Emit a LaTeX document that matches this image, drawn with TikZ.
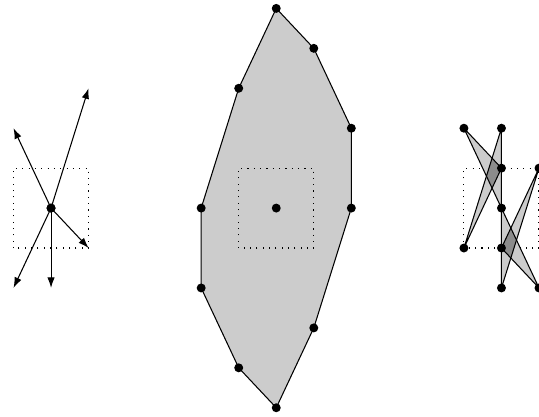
\documentclass[tikz,border=0pt]{standalone}
\usetikzlibrary{arrows.meta}
\tikzset{
  dot/.style={circle,fill=black,inner sep=0pt,minimum size=3.4pt},
  window/.style={dotted},
  gen/.style={-{Latex[length=4pt,width=2.8pt]}},
  cell/.style={fill=black!20},
  overlap/.style={fill=black!45},
}
\begin{document}
\begin{tikzpicture}[x=0.5cm,y=0.532cm]
  \useasboundingbox (-7.36,-5.21) rectangle (7,5.21);
  % left: generators
  \begin{scope}[shift={(-6,0)}]
    \draw[window] (-1,-1) rectangle (1,1);
    \coordinate (ga) at (1,3);
    \coordinate (gb) at (-1,2);
    \coordinate (gc) at (-1,-2);
    \coordinate (gd) at (0,-2);
    \coordinate (ge) at (1,-1);
    \node[dot] (org) at (0,0) {};
    \foreach \g in {ga,gb,gc,gd,ge}
      \draw[gen] (org.center) -- (\g);
    \node[dot] at (org) {};
  \end{scope}
  % middle: zonotope
  \begin{scope}
    \path (0,5) coordinate (z1) (1,4) coordinate (z2) (2,2) coordinate (z3)
      (2,0) coordinate (z4) (1,-3) coordinate (z5) (0,-5) coordinate (z6)
      (-1,-4) coordinate (z7) (-2,-2) coordinate (z8) (-2,0) coordinate (z9)
      (-1,3) coordinate (z10);
    \filldraw[cell] (z1) -- (z2) -- (z3) -- (z4) -- (z5) -- (z6) -- (z7)
      -- (z8) -- (z9) -- (z10) -- cycle;
    \draw[window] (-1,-1) rectangle (1,1);
    \foreach \i in {1,...,10}
      \node[dot] at (z\i) {};
    \node[dot] (ctr) at (0,0) {};
  \end{scope}
  % right: triangles
  \begin{scope}[shift={(6,0)}]
    \draw[window] (-1,-1) rectangle (1,1);
    \path (-1,2) coordinate (p1) (0,2) coordinate (p2) (0,1) coordinate (p3)
      (1,1) coordinate (p4) (0,0) coordinate (p5) (-1,-1) coordinate (p6)
      (0,-1) coordinate (p7) (0,-2) coordinate (p8) (1,-2) coordinate (p9);
    \foreach \a/\b/\c in {1/3/5,2/3/6,9/7/5,8/7/4}
      \fill[cell] (p\a) -- (p\b) -- (p\c) -- cycle;
    % overlaps
    \foreach \a/\b/\c/\d/\e/\f in {1/3/5/2/3/6,9/7/5/8/7/4} {
      \begin{scope}
        \clip (p\a) -- (p\b) -- (p\c) -- cycle;
        \fill[overlap] (p\d) -- (p\e) -- (p\f) -- cycle;
      \end{scope}
    }
    \foreach \a/\b/\c in {1/3/5,2/3/6,9/7/5,8/7/4}
      \draw (p\a) -- (p\b) -- (p\c) -- cycle;
    \foreach \i in {1,...,9}
      \node[dot] at (p\i) {};
  \end{scope}
\end{tikzpicture}
\end{document}
